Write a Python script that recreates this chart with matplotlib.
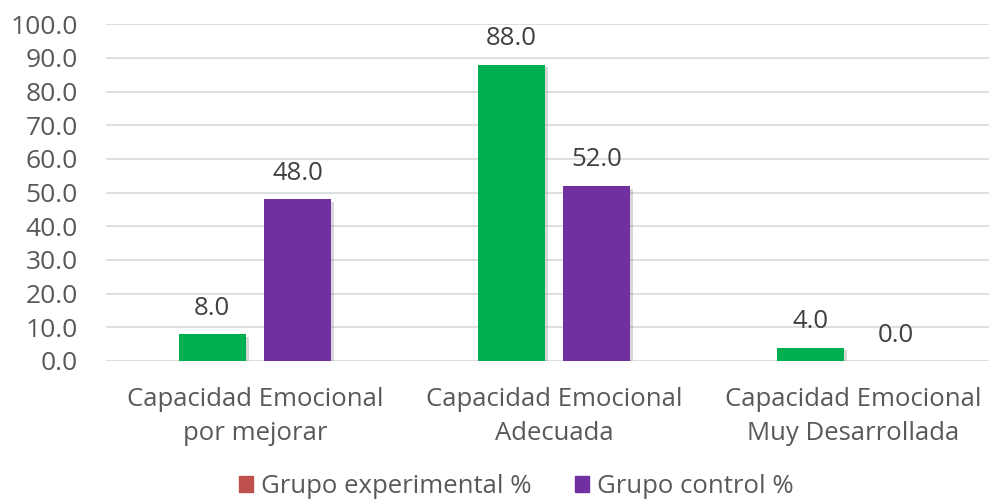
import matplotlib.pyplot as plt
import matplotlib.patheffects as pe
from matplotlib.patches import Patch
import numpy as np

# datos
categorias = ['Capacidad Emocional\npor mejorar',
              'Capacidad Emocional\nAdecuada',
              'Capacidad Emocional\nMuy Desarrollada']
experimental = [8.0, 88.0, 4.0]
control = [48.0, 52.0, 0.0]
series_names = ['Grupo experimental %', 'Grupo control %']

verde = '#00B050'
morado = '#7030A0'
rojo_leyenda = '#C0504D'
gris_texto = '#595959'

plt.rcParams['font.family'] = ['Open Sans', 'DejaVu Sans']

fig = plt.figure(figsize=(9.89, 4.99), dpi=100)
ax = fig.add_axes([0.1067, 0.2766, 0.907, 0.675])

x = np.arange(len(categorias))
w = 0.225
sombra = [pe.SimplePatchShadow(offset=(2, -2), shadow_rgbFace='#808080', alpha=0.3), pe.Normal()]

b1 = ax.bar(x - 0.143, experimental, width=w, color=verde, zorder=3)
b2 = ax.bar(x + 0.142, control, width=w, color=morado, zorder=3)
for b in list(b1) + list(b2):
    b.set_path_effects(sombra)

# etiquetas de datos
for bars, vals in [(b1, experimental), (b2, control)]:
    for rect, v in zip(bars, vals):
        ax.annotate(f'{v:.1f}', xy=(rect.get_x() + rect.get_width() / 2, v),
                    xytext=(0, 14), textcoords='offset points',
                    ha='center', va='baseline', fontsize=18.5, color='#404040')

ax.set_xlim(-0.5, 2.5)
ax.set_ylim(0, 100)
ax.set_yticks(np.arange(0, 101, 10))
ax.yaxis.set_major_formatter(plt.FuncFormatter(lambda v, p: f'{v:.1f}'))
ax.set_xticks(x)
ax.set_xticklabels(categorias, linespacing=1.45)

ax.tick_params(axis='y', length=0, pad=20, labelsize=19, labelcolor=gris_texto)
ax.tick_params(axis='x', length=0, pad=19, labelsize=18.5, labelcolor=gris_texto)

ax.grid(axis='y', color='#D9D9D9', linewidth=1.2, zorder=0)
for s in ax.spines.values():
    s.set_visible(False)

handles = [Patch(color=rojo_leyenda), Patch(color=morado)]
fig.legend(handles, series_names, loc='lower center', bbox_to_anchor=(0.522, -0.047),
           ncol=2, frameon=False, fontsize=18.5, handlelength=0.55, handleheight=0.55,
           handletextpad=0.3, columnspacing=1.7, labelcolor=gris_texto)

fig.savefig('out.png', dpi=100)
